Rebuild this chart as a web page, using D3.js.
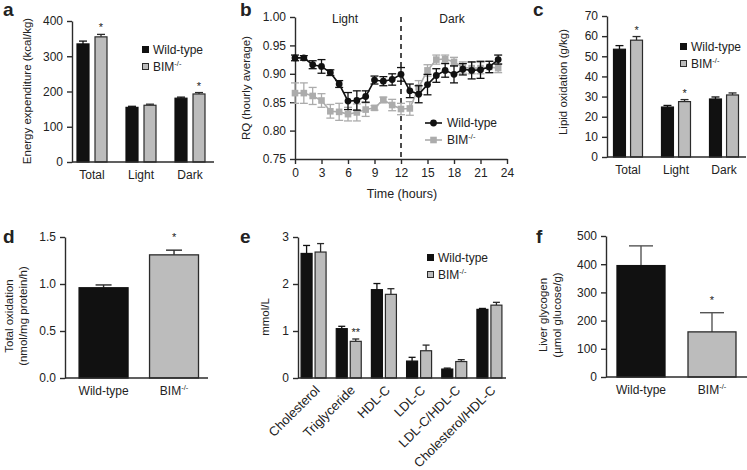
<!DOCTYPE html>
<html lang="en">
<head>
<meta charset="utf-8">
<title>BIM metabolic panels</title>
<script src="https://d3js.org/d3.v7.min.js"></script>
<style>
  body { margin: 0; background: #fff; }
  svg text { font-family: "Liberation Sans", Arial, sans-serif; fill: #222; }
</style>
</head>
<body>
<svg width="747" height="470"></svg>
<script>
// ---- data ----
// a: energy expenditure
var groupsA = ['Total', 'Light', 'Dark'];
var wtA = [335, 155, 181];
var wtErrA = [8, 3, 3];
var bimA = [355, 161, 193];
var bimErrA = [7, 3, 4];
var starsA = ['*', '', '*'];

// b: RQ by hour
var hoursB = [0, 1, 2, 3, 4, 5, 6, 7, 8, 9, 10, 11, 12, 13, 14, 15, 16, 17, 18, 19, 20, 21, 22, 23];
var wtB = [0.928, 0.928, 0.916, 0.913, 0.902, 0.882, 0.852, 0.853, 0.860, 0.889, 0.887, 0.890,
           0.899, 0.870, 0.864, 0.881, 0.897, 0.906, 0.899, 0.908, 0.906, 0.907, 0.912, 0.925];
var wtErrB = [0.005, 0.004, 0.007, 0.012, 0.005, 0.006, 0.015, 0.017, 0.010, 0.007, 0.008, 0.010,
              0.012, 0.012, 0.015, 0.018, 0.012, 0.012, 0.015, 0.010, 0.015, 0.015, 0.010, 0.008];
var bimB = [0.866, 0.866, 0.861, 0.853, 0.834, 0.833, 0.829, 0.832, 0.837, 0.840, 0.854, 0.845,
            0.838, 0.839, 0.876, 0.906, 0.925, 0.926, 0.921, 0.911, 0.910, 0.910, 0.912, 0.910];
var bimErrB = [0.018, 0.018, 0.015, 0.012, 0.012, 0.015, 0.012, 0.015, 0.012, 0.004, 0.005, 0.010,
               0.010, 0.012, 0.012, 0.010, 0.008, 0.007, 0.008, 0.010, 0.010, 0.010, 0.010, 0.008];

// c: lipid oxidation
var groupsC = ['Total', 'Light', 'Dark'];
var wtC = [53.5, 24.8, 28.8];
var wtErrC = [1.8, 0.8, 1.0];
var bimC = [58.0, 27.5, 30.8];
var bimErrC = [1.8, 1.0, 1.0];
var starsC = ['*', '*', ''];

// d: total oxidation
var groupsD = ['Wild-type', 'BIM'];
var valsD = [0.96, 1.31];
var errD = [0.03, 0.05];
var starsD = ['', '*'];

// e: plasma lipids
var groupsE = ['Cholesterol', 'Triglyceride', 'HDL-C', 'LDL-C', 'LDL-C/HDL-C', 'Cholesterol/HDL-C'];
var wtE = [2.65, 1.05, 1.88, 0.36, 0.19, 1.46];
var wtErrE = [0.17, 0.05, 0.13, 0.08, 0.02, 0.02];
var bimE = [2.68, 0.78, 1.78, 0.58, 0.35, 1.55];
var bimErrE = [0.18, 0.05, 0.12, 0.12, 0.04, 0.06];
var starsE = ['', '**', '', '', '', ''];

// f: liver glycogen
var groupsF = ['Wild-type', 'BIM'];
var valsF = [395, 160];
var errF = [70, 68];
var starsF = ['', '*'];

// ---- drawing ----
var svg = d3.select('svg');
var ink = '#2b2b2b';
var black = '#111';
var grey = '#bcbcbc';
var lineGrey = '#acacac';

function styleAxis(g, size) {
  g.attr('font-family', null).attr('font-size', null);
  g.select('.domain').attr('stroke', ink).attr('stroke-width', 1.4);
  g.selectAll('.tick line').attr('stroke', ink).attr('stroke-width', 1.4);
  g.selectAll('.tick text').style('font-size', size + 'px').attr('fill', '#222');
}

function bimText(sel, size) {
  sel.text('BIM');
  sel.append('tspan').attr('dy', -size * 0.4).style('font-size', (size * 0.62) + 'px').text('-/-');
}

function panelLetter(t, x, y) {
  svg.append('text').attr('x', x).attr('y', y)
    .style('font-size', '19px').style('font-weight', 'bold').attr('fill', '#111').text(t);
}

function yLabel(lines, x, cy, size) {
  var t = svg.append('text').attr('transform', 'translate(' + x + ',' + cy + ') rotate(-90)')
    .attr('text-anchor', 'middle').style('font-size', size + 'px');
  lines.forEach(function (l, i) {
    t.append('tspan').attr('x', 0).attr('dy', i === 0 ? 0 : '1.2em').text(l);
  });
}

function legendBars(x, y, size) {
  var g = svg.append('g').attr('transform', 'translate(' + x + ',' + y + ')');
  g.append('rect').attr('x', 0).attr('y', -4).attr('width', 7).attr('height', 7).attr('fill', black);
  g.append('text').attr('x', 11).attr('y', 4).style('font-size', size + 'px').text('Wild-type');
  g.append('rect').attr('x', 0.5).attr('y', 13.5).attr('width', 6).attr('height', 6)
    .attr('fill', grey).attr('stroke', ink).attr('stroke-width', 1);
  bimText(g.append('text').attr('x', 11).attr('y', 21).style('font-size', size + 'px'), size);
}

function errBar(g, x, yTop, yVal, half, color, w) {
  g.append('line').attr('x1', x).attr('x2', x).attr('y1', yVal).attr('y2', yTop)
    .attr('stroke', color).attr('stroke-width', w);
  g.append('line').attr('x1', x - half).attr('x2', x + half).attr('y1', yTop).attr('y2', yTop)
    .attr('stroke', color).attr('stroke-width', w);
}

// grouped bars: wild-type (black) and BIM (grey) per group
function groupedPanel(cfg) {
  var x = d3.scaleBand().domain(cfg.groups).range([cfg.x0, cfg.x1]);
  var inner = d3.scaleBand().domain(['wt', 'bim']).range(cfg.inner).paddingInner(cfg.innerPad);
  var y = d3.scaleLinear().domain([0, cfg.yMax]).range([cfg.yBot, cfg.yTop]);

  var ya = svg.append('g').attr('transform', 'translate(' + cfg.x0axis + ',0)')
    .call(d3.axisLeft(y).tickValues(cfg.ticks).tickFormat(cfg.fmt).tickSize(5).tickPadding(4).tickSizeOuter(0));
  styleAxis(ya, cfg.font);

  var series = [
    { key: 'wt', vals: cfg.wt, errs: cfg.wtErr, fill: black, stroke: black, stars: null },
    { key: 'bim', vals: cfg.bim, errs: cfg.bimErr, fill: grey, stroke: ink, stars: cfg.stars }
  ];
  var g = svg.append('g');
  series.forEach(function (s) {
    cfg.groups.forEach(function (grp, i) {
      var bx = x(grp) + x.bandwidth() / 2 + inner(s.key);
      var cx = bx + inner.bandwidth() / 2;
      errBar(g, cx, y(s.vals[i] + s.errs[i]), y(s.vals[i]), cfg.cap, s.stroke, 1.3);
      g.append('rect').attr('x', bx).attr('y', y(s.vals[i]))
        .attr('width', inner.bandwidth()).attr('height', cfg.yBot - y(s.vals[i]))
        .attr('fill', s.fill).attr('stroke', s.stroke).attr('stroke-width', 1.2);
      if (s.stars && s.stars[i]) {
        g.append('text').attr('x', cx).attr('y', y(s.vals[i] + s.errs[i]) - 3)
          .attr('text-anchor', 'middle').style('font-size', '11px').text(s.stars[i]);
      }
    });
  });

  var xa = svg.append('g').attr('transform', 'translate(0,' + cfg.yBot + ')')
    .call(d3.axisBottom(x).tickSize(0).tickPadding(8).tickSizeOuter(0));
  styleAxis(xa, cfg.font);
  xa.select('.domain').attr('d', 'M' + cfg.x0axis + ',0H' + cfg.xEnd);
  return xa;
}

// single-series bars
function singlePanel(cfg) {
  var x = d3.scaleBand().domain(cfg.groups).range([cfg.x0, cfg.x1])
    .paddingInner(cfg.padIn).paddingOuter(cfg.padOut);
  var y = d3.scaleLinear().domain([0, cfg.yMax]).range([cfg.yBot, cfg.yTop]);

  var ya = svg.append('g').attr('transform', 'translate(' + cfg.x0 + ',0)')
    .call(d3.axisLeft(y).tickValues(cfg.ticks).tickFormat(cfg.fmt).tickSize(5).tickPadding(4).tickSizeOuter(0));
  styleAxis(ya, 12);

  var fills = [black, grey];
  var strokes = [black, ink];
  var g = svg.append('g');
  cfg.groups.forEach(function (grp, i) {
    var cx = x(grp) + x.bandwidth() / 2;
    errBar(g, cx, y(cfg.vals[i] + cfg.errs[i]), y(cfg.vals[i]), cfg.cap, cfg.errColor, 1.4);
    g.append('rect').attr('x', x(grp)).attr('y', y(cfg.vals[i]))
      .attr('width', x.bandwidth()).attr('height', cfg.yBot - y(cfg.vals[i]))
      .attr('fill', fills[i]).attr('stroke', strokes[i]).attr('stroke-width', 1.3);
    if (cfg.stars[i]) {
      g.append('text').attr('x', cx).attr('y', y(cfg.vals[i] + cfg.errs[i]) - 9)
        .attr('text-anchor', 'middle').style('font-size', '11px').text(cfg.stars[i]);
    }
  });

  var xa = svg.append('g').attr('transform', 'translate(0,' + cfg.yBot + ')')
    .call(d3.axisBottom(x).tickSize(0).tickPadding(8).tickSizeOuter(0));
  styleAxis(xa, 12);
  xa.select('.domain').attr('d', 'M' + cfg.x0 + ',0H' + cfg.xEnd);
  xa.selectAll('.tick text').filter(function (d) { return d === 'BIM'; })
    .each(function () { bimText(d3.select(this), 12); });
}

// ---- panel a ----
panelLetter('a', 3, 16);
groupedPanel({
  groups: groupsA, wt: wtA, wtErr: wtErrA, bim: bimA, bimErr: bimErrA, stars: starsA,
  x0: 67.5, x1: 214.5, x0axis: 72, xEnd: 214, yTop: 21, yBot: 162, yMax: 400,
  ticks: [0, 100, 200, 300, 400], fmt: d3.format('d'),
  inner: [-15, 15], innerPad: 1 / 3, cap: 4, font: 12
});
yLabel(['Energy expenditure (kcal/kg)'], 31, 91, 11.5);
legendBars(142, 50, 12);

// ---- panel b ----
panelLetter('b', 240, 16);
(function () {
  var x = d3.scaleLinear().domain([0, 24]).range([295, 507]);
  var y = d3.scaleLinear().domain([0.75, 1.0]).range([159, 17]);
  var ya = svg.append('g').attr('transform', 'translate(295,0)')
    .call(d3.axisLeft(y).tickValues([0.75, 0.8, 0.85, 0.9, 0.95, 1.0]).tickFormat(d3.format('.2f'))
      .tickSize(5).tickPadding(4).tickSizeOuter(0));
  styleAxis(ya, 12);
  var xa = svg.append('g').attr('transform', 'translate(0,159)')
    .call(d3.axisBottom(x).tickValues([0, 3, 6, 9, 12, 15, 18, 21, 24]).tickSize(5).tickPadding(4).tickSizeOuter(0));
  styleAxis(xa, 12);

  svg.append('line').attr('x1', x(12)).attr('x2', x(12)).attr('y1', y(1.0)).attr('y2', y(0.75))
    .attr('stroke', black).attr('stroke-width', 1.5).attr('stroke-dasharray', '5,4');
  svg.append('text').attr('x', 345).attr('y', 23).attr('text-anchor', 'middle').style('font-size', '12px').text('Light');
  svg.append('text').attr('x', 452).attr('y', 23).attr('text-anchor', 'middle').style('font-size', '12px').text('Dark');

  var line = d3.line().x(function (d) { return x(d[0]); }).y(function (d) { return y(d[1]); });
  function series(vals, errs, color, marker) {
    var pts = hoursB.map(function (h, i) { return [h, vals[i], errs[i]]; });
    var g = svg.append('g');
    pts.forEach(function (p) {
      var cx = x(p[0]);
      g.append('line').attr('x1', cx).attr('x2', cx).attr('y1', y(p[1] - p[2])).attr('y2', y(p[1] + p[2]))
        .attr('stroke', color).attr('stroke-width', 1.3);
      [p[1] - p[2], p[1] + p[2]].forEach(function (v) {
        g.append('line').attr('x1', cx - 4).attr('x2', cx + 4).attr('y1', y(v)).attr('y2', y(v))
          .attr('stroke', color).attr('stroke-width', 1.3);
      });
    });
    g.append('path').datum(pts).attr('d', line).attr('fill', 'none').attr('stroke', color).attr('stroke-width', 1.6);
    pts.forEach(function (p) {
      if (marker === 'circle') {
        g.append('circle').attr('cx', x(p[0])).attr('cy', y(p[1])).attr('r', 3.4).attr('fill', color);
      } else {
        g.append('rect').attr('x', x(p[0]) - 3.3).attr('y', y(p[1]) - 3.3).attr('width', 6.6).attr('height', 6.6).attr('fill', color);
      }
    });
  }
  series(bimB, bimErrB, lineGrey, 'square');
  series(wtB, wtErrB, black, 'circle');

  svg.append('text').attr('x', 402).attr('y', 198).attr('text-anchor', 'middle').style('font-size', '12.5px').text('Time (hours)');
  yLabel(['RQ (hourly average)'], 250, 88, 11.5);

  var lg = svg.append('g').attr('transform', 'translate(425,123)');
  lg.append('line').attr('x1', 0).attr('x2', 17).attr('stroke', black).attr('stroke-width', 1.6);
  lg.append('circle').attr('cx', 8.5).attr('r', 3.4).attr('fill', black);
  lg.append('text').attr('x', 22).attr('y', 4).style('font-size', '12px').text('Wild-type');
  lg.append('line').attr('x1', 0).attr('x2', 17).attr('y1', 17).attr('y2', 17).attr('stroke', lineGrey).attr('stroke-width', 1.6);
  lg.append('rect').attr('x', 5.2).attr('y', 13.7).attr('width', 6.6).attr('height', 6.6).attr('fill', lineGrey);
  bimText(lg.append('text').attr('x', 22).attr('y', 21).style('font-size', '12px'), 12);
})();

// ---- panel c ----
panelLetter('c', 533, 16);
groupedPanel({
  groups: groupsC, wt: wtC, wtErr: wtErrC, bim: bimC, bimErr: bimErrC, stars: starsC,
  x0: 604, x1: 748, x0axis: 607, xEnd: 746, yTop: 16, yBot: 157, yMax: 70,
  ticks: [0, 10, 20, 30, 40, 50, 60, 70], fmt: d3.format('d'),
  inner: [-14.5, 14.5], innerPad: 0.3, cap: 4, font: 12
});
yLabel(['Lipid oxidation (g/kg)'], 567, 82, 11.5);
legendBars(680, 47, 12);

// ---- panel d ----
panelLetter('d', 3, 243);
singlePanel({
  groups: groupsD, vals: valsD, errs: errD, stars: starsD,
  x0: 65, x1: 212.6, xEnd: 208, padIn: 0.305, padOut: 0.2,
  yTop: 237, yBot: 378, yMax: 1.5, ticks: [0, 0.5, 1.0, 1.5], fmt: d3.format('.1f'),
  cap: 8, errColor: ink
});
yLabel(['Total oxidation', '(nmol/mg protein/h)'], 13, 316, 11.5);

// ---- panel e ----
panelLetter('e', 240, 243);
var xaE = groupedPanel({
  groups: groupsE, wt: wtE, wtErr: wtErrE, bim: bimE, bimErr: bimErrE, stars: starsE,
  x0: 296, x1: 507, x0axis: 298, xEnd: 506, yTop: 237, yBot: 378, yMax: 3,
  ticks: [0, 1, 2, 3], fmt: d3.format('d'),
  inner: [-12.5, 12.5], innerPad: 0.214, cap: 3.5, font: 12
});
xaE.selectAll('.tick text').style('font-size', '13px').attr('y', 0).attr('dy', 0).attr('text-anchor', 'end')
  .attr('transform', 'translate(7,13) rotate(-45)');
yLabel(['mmol/L'], 269, 317, 11.5);
legendBars(427, 258, 12);

// ---- panel f ----
panelLetter('f', 536, 243);
singlePanel({
  groups: groupsF, vals: valsF, errs: errF, stars: starsF,
  x0: 606, x1: 747, xEnd: 747, padIn: 0.324, padOut: 0.155,
  yTop: 236, yBot: 377, yMax: 500, ticks: [0, 100, 200, 300, 400, 500], fmt: d3.format('d'),
  cap: 12, errColor: '#555'
});
yLabel(['Liver glycogen', '(\u00b5mol glucose/g)'], 547, 315, 11.5);
</script>
</body>
</html>
